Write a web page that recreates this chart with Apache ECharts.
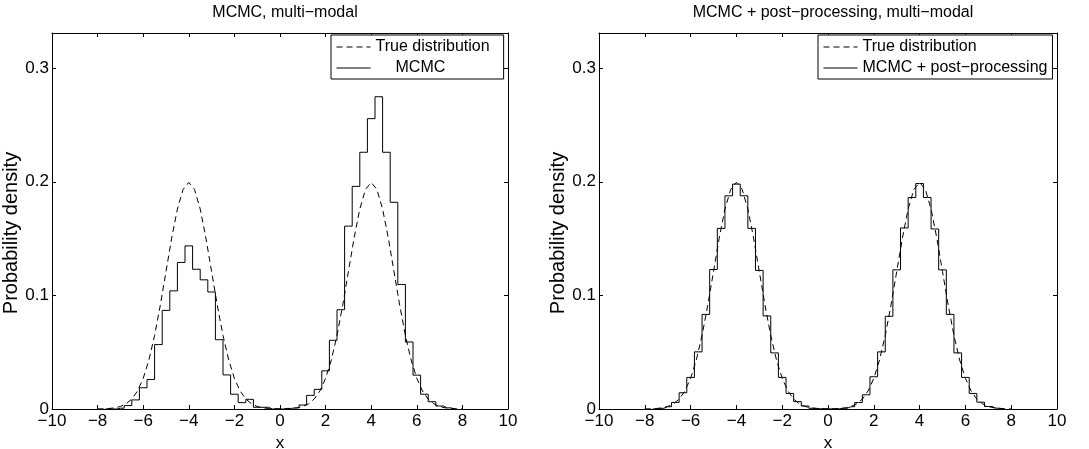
<!DOCTYPE html>
<html>
<head>
<meta charset="utf-8">
<script src="https://cdn.jsdelivr.net/npm/echarts@6/dist/echarts.min.js"></script>
<style>
html,body{margin:0;padding:0;background:#fff;}
#chart{width:1089px;height:449px;}
</style>
</head>
<body>
<div id="chart"></div>
<script>
// ---- data ----
const titles = ['MCMC, multi\u2212modal', 'MCMC + post\u2212processing, multi\u2212modal'];
const legendLeft = ['True distribution', 'MCMC'];
const legendRight = ['True distribution', 'MCMC + post\u2212processing'];
const xTicks = [-10, -8, -6, -4, -2, 0, 2, 4, 6, 8, 10];
const yTicks = [0, 0.1, 0.2, 0.3];

// histogram bins: first bin centre and width (bins are 1/3 wide)
const binStart = -23 / 3;
const binWidth = 1 / 3;
// heights for bin centres -7.667 ... 7.667
const mcmcHeights = [
  0, 0, 0.0007, 0.003, 0.008, 0.0187, 0.026, 0.0567, 0.0868, 0.104,
  0.129, 0.1436, 0.123, 0.1137, 0.103, 0.061, 0.030, 0.013, 0.0056, 0.0085,
  0.0015, 0.0015, 0, 0, 0.0005, 0.001, 0.0035, 0.012, 0.0173, 0.0336,
  0.0605, 0.0874, 0.161, 0.196, 0.226, 0.2556, 0.2749, 0.226, 0.182, 0.1096,
  0.059, 0.0298, 0.013, 0.0064, 0.0026, 0.001, 0
];
const postHeights = [
  0, 0.0006, 0.002, 0.0058, 0.0143, 0.0278, 0.0503, 0.0833, 0.1228, 0.159,
  0.1877, 0.198, 0.1877, 0.159, 0.122, 0.0819, 0.0494, 0.0278, 0.0137, 0.0065,
  0.0026, 0.0006, 0.0002, 0.0001, 0.0002, 0.0006, 0.002, 0.0057, 0.0125, 0.0284,
  0.0503, 0.0816, 0.1225, 0.1594, 0.1862, 0.1985, 0.1862, 0.1585, 0.1225, 0.0833,
  0.0494, 0.0278, 0.0137, 0.006, 0.0022, 0.0007, 0
];

// true density sampled from x = -8 to 8, step 0.25
const trueStart = -8;
const trueStep = 0.25;
const trueDensity = [
  0.00007, 0.00018, 0.00044, 0.00101, 0.00222, 0.00455, 0.00876, 0.01587,
  0.02700, 0.04314, 0.06476, 0.09132, 0.12099, 0.15057, 0.17603, 0.19333,
  0.19947,
  0.19333, 0.17603, 0.15057, 0.12099, 0.09132, 0.06476, 0.04314, 0.02700,
  0.01587, 0.00876, 0.00455, 0.00222, 0.00101, 0.00044, 0.00018,
  0.00013,
  0.00018, 0.00044, 0.00101, 0.00222, 0.00455, 0.00876, 0.01587, 0.02700,
  0.04314, 0.06476, 0.09132, 0.12099, 0.15057, 0.17603, 0.19333,
  0.19947,
  0.19333, 0.17603, 0.15057, 0.12099, 0.09132, 0.06476, 0.04314, 0.02700,
  0.01587, 0.00876, 0.00455, 0.00222, 0.00101, 0.00044, 0.00018, 0.00007
];

// ---- build chart ----
const FONT = "'Liberation Sans', Arial, Helvetica, sans-serif";
const histPairs = h => h.map((v, i) => [binStart + i * binWidth, v]);
const truePairs = trueDensity.map((v, i) => [trueStart + i * trueStep, v]);

const grids = [
  {left: 52, right: 1089 - 508, top: 33, bottom: 449 - 409, outerBoundsMode: 'none', containLabel: false},
  {left: 599, right: 1089 - 1057, top: 33, bottom: 449 - 409, outerBoundsMode: 'none', containLabel: false}
];
const xMin = xTicks[0], xMax = xTicks[xTicks.length - 1];
const xInt = xTicks[1] - xTicks[0];
const yMax = 0.331, yInt = yTicks[1] - yTicks[0];

function fmtX(v) { return String(v).replace('-', '\u2212'); }
function fmtY(v) {
  for (const t of yTicks) if (Math.abs(v - t) < 1e-9) return t === 0 ? '0' : t.toFixed(1);
  return '';
}

const TICK_FS = 17;
const xAxes = [], yAxes = [];
grids.forEach((g, gi) => {
  xAxes.push({
    type: 'value', gridIndex: gi, position: 'bottom', min: xMin, max: xMax, interval: xInt,
    name: 'x', nameLocation: 'middle', nameGap: 19,
    nameTextStyle: {fontFamily: FONT, fontSize: TICK_FS, color: '#000'},
    axisLine: {show: true, onZero: false, lineStyle: {color: '#000', width: 1}},
    axisTick: {show: true, inside: true, length: 4, lineStyle: {color: '#000'}},
    axisLabel: {formatter: fmtX, fontFamily: FONT, fontSize: TICK_FS, color: '#000', margin: 4},
    splitLine: {show: false}
  });
  xAxes.push({
    type: 'value', gridIndex: gi, position: 'top', min: xMin, max: xMax, interval: xInt,
    axisLine: {show: true, onZero: false, lineStyle: {color: '#000', width: 1}},
    axisTick: {show: true, inside: true, length: 4, lineStyle: {color: '#000'}},
    axisLabel: {show: false}, splitLine: {show: false}
  });
  yAxes.push({
    type: 'value', gridIndex: gi, position: 'left', min: 0, max: yMax, interval: yInt,
    name: 'Probability density', nameLocation: 'middle', nameGap: 24,
    nameTextStyle: {fontFamily: FONT, fontSize: 20, color: '#000', padding: [0, 24, 0, 0]},
    axisLine: {show: true, onZero: false, lineStyle: {color: '#000', width: 1}},
    axisTick: {show: true, inside: true, length: 4, lineStyle: {color: '#000'}},
    axisLabel: {formatter: fmtY, fontFamily: FONT, fontSize: TICK_FS, color: '#000', margin: 3,
                showMaxLabel: false},
    splitLine: {show: false}
  });
  yAxes.push({
    type: 'value', gridIndex: gi, position: 'right', min: 0, max: yMax, interval: yInt,
    axisLine: {show: true, onZero: false, lineStyle: {color: '#000', width: 1}},
    axisTick: {show: true, inside: true, length: 4, lineStyle: {color: '#000'}},
    axisLabel: {show: false}, splitLine: {show: false}
  });
});

const dashStyle = {color: '#000', width: 1, type: [6, 4]};
const solidStyle = {color: '#000', width: 1};

const series = [
  {name: legendLeft[0], type: 'line', xAxisIndex: 0, yAxisIndex: 0, data: truePairs,
   symbol: 'none', lineStyle: dashStyle, itemStyle: {color: '#000'}, z: 3},
  {name: legendLeft[1], type: 'line', xAxisIndex: 0, yAxisIndex: 0, data: histPairs(mcmcHeights),
   step: 'middle', symbol: 'none', lineStyle: solidStyle, itemStyle: {color: '#000'}, z: 4},
  {name: legendRight[0], type: 'line', xAxisIndex: 2, yAxisIndex: 2, data: truePairs,
   symbol: 'none', lineStyle: dashStyle, itemStyle: {color: '#000'}, z: 3},
  {name: legendRight[1], type: 'line', xAxisIndex: 2, yAxisIndex: 2, data: histPairs(postHeights),
   step: 'middle', symbol: 'none', lineStyle: solidStyle, itemStyle: {color: '#000'}, z: 4}
];

const legendCommon = {
  orient: 'vertical', top: 35, itemWidth: 34, itemHeight: 18, itemGap: 5,
  backgroundColor: '#fff', borderColor: '#000', borderWidth: 1, borderRadius: 0,
  selectedMode: false,
  itemStyle: {opacity: 0},
  lineStyle: {width: 1},
  textStyle: {fontFamily: FONT, fontSize: 16, color: '#000',
              rich: {ind: {fontFamily: FONT, fontSize: 16, color: '#000', padding: [0, 0, 0, 20]}}}
};

const option = {
  backgroundColor: '#fff',
  animation: false,
  title: [
    {text: titles[0], left: (grids[0].left + 508) / 2, top: 0, textAlign: 'center',
     textStyle: {fontFamily: FONT, fontSize: 16, fontWeight: 'normal', color: '#000'}},
    {text: titles[1], left: (grids[1].left + 1057) / 2, top: 0, textAlign: 'center',
     textStyle: {fontFamily: FONT, fontSize: 16, fontWeight: 'normal', color: '#000'}}
  ],
  grid: grids,
  xAxis: xAxes,
  yAxis: yAxes,
  legend: [
    Object.assign({}, legendCommon, {left: 331, padding: [4, 14, 3, 5],
      data: legendLeft.map(n => ({name: n})),
      formatter: n => n === legendLeft[1] ? '{ind|' + n + '}' : n}),
    Object.assign({}, legendCommon, {left: 818, padding: [4, 5, 3, 5],
      data: legendRight.map(n => ({name: n}))})
  ],
  series: series
};

const chart = echarts.init(document.getElementById('chart'), null, {renderer: 'canvas'});
chart.setOption(option);
</script>
</body>
</html>
